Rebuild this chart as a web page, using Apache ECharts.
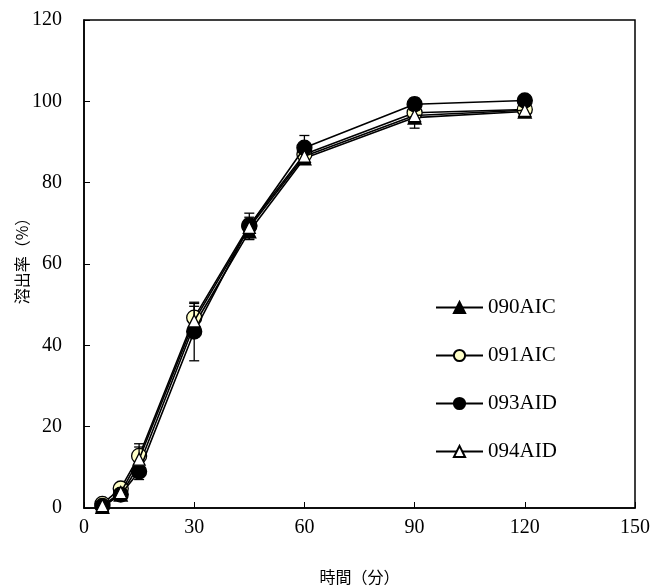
<!DOCTYPE html>
<html>
<head>
<meta charset="utf-8">
<script src="https://cdn.jsdelivr.net/npm/echarts@6/dist/echarts.min.js"></script>
<style>html,body{margin:0;padding:0;background:#fff}#c{width:660px;height:586px}</style>
</head>
<body>
<div id="c"></div>
<script>
const times = [5, 10, 15, 30, 45, 60, 90, 120];
const names = ['090AIC', '091AIC', '093AID', '094AID'];
const s090 = [0.3, 3.3, 10.5, 45.0, 68.0, 86.0, 96.0, 97.5];
const s091 = [1.0, 4.8, 12.8, 46.8, 69.5, 87.0, 97.2, 98.0];
const s093 = [0.5, 3.3, 9.0, 43.4, 69.3, 88.6, 99.3, 100.2];
const s094 = [0.6, 3.8, 12.0, 46.0, 69.0, 86.5, 96.5, 97.8];
const e090 = [0.3, 0.5, 1.5, 3.0, 2.0, 1.5, 2.6, 1.0];
const e091 = [0.3, 0.5, 3.0, 3.5, 2.0, 2.0, 1.5, 1.0];
const e093 = [0.3, 0.5, 2.0, 7.2, 3.2, 3.0, 1.5, 0.8];
const e094 = [0.3, 0.5, 3.0, 3.6, 2.0, 2.0, 1.5, 1.0];
const xTicks = [0, 30, 60, 90, 120, 150];
const yTicks = [0, 20, 40, 60, 80, 100, 120];

const vals = [s090, s091, s093, s094];
const errs = [e090, e091, e093, e094];
const styles = [
  {symbol: 'triangle', size: 13, fill: '#000000'},
  {symbol: 'circle', size: 15, fill: '#FFFFC8'},
  {symbol: 'circle', size: 15, fill: '#000000'},
  {symbol: 'triangle', size: 12, fill: '#FFFFFF'}
];
const serif = "'Liberation Serif','Times New Roman','Noto Sans CJK JP',serif";
const cjk = "'Noto Sans CJK JP','Liberation Serif',sans-serif";

const series = [];
vals.forEach((v, i) => {
  const errData = times.map((t, k) => [t, v[k] - errs[i][k], v[k] + errs[i][k]]);
  series.push({
    type: 'custom',
    name: names[i] + '_err',
    z: 2 + i * 2,
    silent: true,
    data: errData,
    renderItem: function (params, api) {
      const x = api.value(0);
      const lo = api.coord([x, api.value(1)]);
      const hi = api.coord([x, api.value(2)]);
      const cw = 5;
      const st = {stroke: '#000', lineWidth: 1.3};
      return {
        type: 'group',
        children: [
          {type: 'line', shape: {x1: lo[0], y1: lo[1], x2: hi[0], y2: hi[1]}, style: st},
          {type: 'line', shape: {x1: lo[0] - cw, y1: lo[1], x2: lo[0] + cw, y2: lo[1]}, style: st},
          {type: 'line', shape: {x1: hi[0] - cw, y1: hi[1], x2: hi[0] + cw, y2: hi[1]}, style: st}
        ]
      };
    }
  });
  series.push({
    type: 'line',
    name: names[i],
    z: 3 + i * 2,
    data: times.map((t, k) => [t, v[k]]),
    symbol: styles[i].symbol,
    symbolSize: styles[i].size,
    showAllSymbol: true,
    lineStyle: {color: '#000', width: 1.6},
    itemStyle: {color: styles[i].fill, borderColor: '#000', borderWidth: 1.3},
    emphasis: {disabled: true},
    animation: false
  });
});

const chart = echarts.init(document.getElementById('c'));
chart.setOption({
  animation: false,
  backgroundColor: '#fff',
  grid: {left: 84, right: 25, top: 20, bottom: 78, show: true, borderColor: '#000', borderWidth: 1.5,
    containLabel: false, outerBoundsMode: 'none'},
  legend: {
    data: names,
    orient: 'vertical',
    left: 430,
    top: 292,
    itemWidth: 47,
    itemHeight: 14,
    itemGap: 27,
    textStyle: {fontFamily: serif, fontSize: 21, color: '#000', padding: [0, 0, 0, 0]}
  },
  xAxis: {
    type: 'value', min: 0, max: 150, interval: 30,
    name: '時間（分）', nameLocation: 'middle', nameGap: 61, nameMoveOverlap: false,
    nameTextStyle: {fontFamily: cjk, fontSize: 16, color: '#000'},
    axisLine: {show: true, lineStyle: {color: '#000', width: 1.5}},
    axisTick: {show: true, inside: true, length: 6, lineStyle: {color: '#000'}},
    axisLabel: {fontFamily: serif, fontSize: 20, color: '#000', margin: 10,
      formatter: v => xTicks.includes(v) ? String(v) : ''},
    splitLine: {show: false}
  },
  yAxis: {
    type: 'value', min: 0, max: 120, interval: 20,
    name: '溶出率（%）', nameLocation: 'middle', nameGap: 54, nameRotate: 90, nameMoveOverlap: false,
    nameTextStyle: {fontFamily: cjk, fontSize: 16, color: '#000', padding: [0, 0, 0, 14]},
    axisLine: {show: true, lineStyle: {color: '#000', width: 1.5}},
    axisTick: {show: true, inside: true, length: 6, lineStyle: {color: '#000'}},
    axisLabel: {fontFamily: serif, fontSize: 20, color: '#000', margin: 22,
      formatter: v => yTicks.includes(v) ? String(v) : ''},
    splitLine: {show: false}
  },
  series: series
});
</script>
</body>
</html>
